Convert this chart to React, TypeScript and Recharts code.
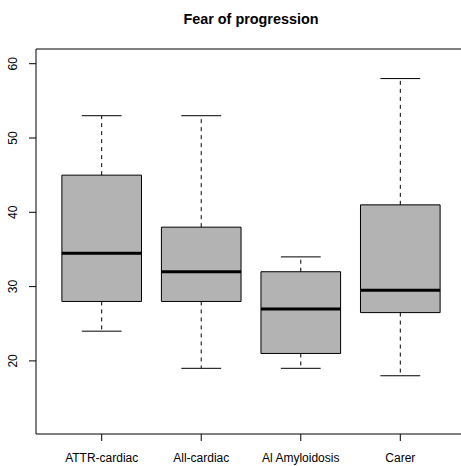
import React from 'react';
import { ComposedChart, XAxis, YAxis, ReferenceArea, ReferenceLine, Scatter } from 'recharts';

// boxplot five-number summaries
const groups = ['ATTR-cardiac', 'All-cardiac', 'Al Amyloidosis', 'Carer'];
const lowWhisker = [24, 19, 19, 18];
const lowerQuartile = [28, 28, 21, 26.5];
const medians = [34.5, 32, 27, 29.5];
const upperQuartile = [45, 38, 32, 41];
const highWhisker = [53, 53, 34, 58];
const yTicks = [20, 30, 40, 50, 60];

const X_DOMAIN: [number, number] = [0.34, 4.66];
const Y_DOMAIN: [number, number] = [10.16, 61.98];
const BOX_HALF = 0.4;
const CAP_HALF = 0.2;
const FONT = '"Liberation Sans", Arial, Helvetica, sans-serif';

const medianPoints = groups.map((g, i) => ({ x: i + 1, y: medians[i] }));

const YTick = ({ y, payload }: any) => (
  <text
    x={17.5}
    y={y}
    transform={`rotate(-90, 17.5, ${y})`}
    textAnchor="middle"
    fontFamily={FONT}
    fontSize={12}
    fill="#000"
  >
    {payload.value}
  </text>
);

const XTick = ({ x, payload }: any) => (
  <text x={x} y={462} textAnchor="middle" fontFamily={FONT} fontSize={12} fill="#000">
    {groups[payload.value - 1]}
  </text>
);

export default function App() {
  return (
    <div style={{ position: 'absolute', left: 0, top: 0, width: 461, height: 466, overflow: 'hidden', background: '#fff' }}>
      <div
        style={{
          position: 'absolute',
          left: 0,
          width: 502,
          top: 11,
          textAlign: 'center',
          fontFamily: FONT,
          fontWeight: 'bold',
          fontSize: 14.4,
          lineHeight: 'normal',
          color: '#000',
          zIndex: 2,
        }}
      >
        Fear of progression
      </div>
      <ComposedChart width={466} height={466} margin={{ top: 49, right: 0, bottom: 0, left: 0 }} data={medianPoints}>
        <XAxis
          type="number"
          dataKey="x"
          domain={X_DOMAIN}
          allowDataOverflow
          ticks={[1, 2, 3, 4]}
          interval={0}
          height={32}
          tickSize={7}
          axisLine={false}
          tickLine={{ stroke: '#000' }}
          tick={<XTick />}
        />
        <YAxis
          type="number"
          dataKey="y"
          domain={Y_DOMAIN}
          allowDataOverflow
          ticks={yTicks}
          interval={0}
          width={36}
          tickSize={7}
          axisLine={false}
          tickLine={{ stroke: '#000' }}
          tick={<YTick />}
        />
        {/* plot frame */}
        <ReferenceArea
          x1={X_DOMAIN[0]}
          x2={X_DOMAIN[1]}
          y1={Y_DOMAIN[0]}
          y2={Y_DOMAIN[1]}
          fill="none"
          fillOpacity={0}
          stroke="#000"
          strokeWidth={1}
          ifOverflow="visible"
        />
        {groups.map((g, i) => (
          <ReferenceArea
            key={`box-${g}`}
            x1={i + 1 - BOX_HALF}
            x2={i + 1 + BOX_HALF}
            y1={lowerQuartile[i]}
            y2={upperQuartile[i]}
            fill="#b3b3b3"
            fillOpacity={1}
            stroke="#000"
            strokeWidth={1}
          />
        ))}
        {groups.map((g, i) => (
          <ReferenceLine
            key={`up-${g}`}
            segment={[{ x: i + 1, y: upperQuartile[i] }, { x: i + 1, y: highWhisker[i] }]}
            stroke="#000"
            strokeDasharray="4 4"
          />
        ))}
        {groups.map((g, i) => (
          <ReferenceLine
            key={`down-${g}`}
            segment={[{ x: i + 1, y: lowerQuartile[i] }, { x: i + 1, y: lowWhisker[i] }]}
            stroke="#000"
            strokeDasharray="4 4"
          />
        ))}
        {groups.map((g, i) => (
          <ReferenceLine
            key={`capHi-${g}`}
            segment={[{ x: i + 1 - CAP_HALF, y: highWhisker[i] }, { x: i + 1 + CAP_HALF, y: highWhisker[i] }]}
            stroke="#000"
          />
        ))}
        {groups.map((g, i) => (
          <ReferenceLine
            key={`capLo-${g}`}
            segment={[{ x: i + 1 - CAP_HALF, y: lowWhisker[i] }, { x: i + 1 + CAP_HALF, y: lowWhisker[i] }]}
            stroke="#000"
          />
        ))}
        {groups.map((g, i) => (
          <ReferenceLine
            key={`med-${g}`}
            segment={[{ x: i + 1 - BOX_HALF, y: medians[i] }, { x: i + 1 + BOX_HALF, y: medians[i] }]}
            stroke="#000"
            strokeWidth={3}
          />
        ))}
        <Scatter dataKey="y" shape={() => null} isAnimationActive={false} legendType="none" />
      </ComposedChart>
    </div>
  );
}
